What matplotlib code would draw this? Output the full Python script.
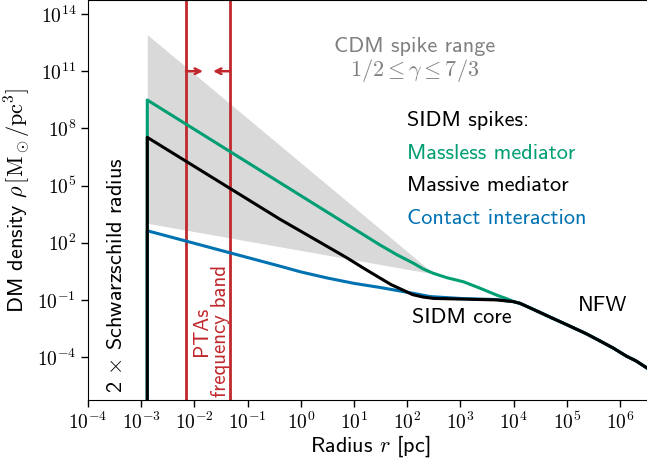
import numpy as np
import matplotlib
matplotlib.use("Agg")
import matplotlib.pyplot as plt
from matplotlib.ticker import FixedLocator, FuncFormatter, NullLocator

plt.rcParams['font.family'] = ['cmss10', 'DejaVu Sans']
plt.rcParams['mathtext.fontset'] = 'cm'
plt.rcParams['axes.unicode_minus'] = False

# DATA (radius in pc, density in Msun/pc^3)
r_min = 1.3e-3
r_pta = [6.95e-3, 4.67e-2]

# CDM spike band, gamma = 7/3 (upper) and gamma = 1/2 (lower)
band_r = [1.3e-3, 3.2e2]
band_upper = [8.3e12, 2.3]
band_lower = [1.05e3, 2.3]

# shared NFW tail
r_nfw = [1.0e4, 1.32e4, 2.34e4, 5.0e4, 1.0e5, 2.34e5, 4.17e5, 7.41e5, 1.32e6, 2.0e6, 3.4e6]
rho_nfw = [0.081, 0.066, 0.032, 0.012, 5.0e-3, 1.66e-3, 7.1e-4, 3.0e-4, 1.12e-4, 6.3e-5, 2.4e-5]

r_massless = [r_min, r_min, 0.407, 30.9, 63.1, 132, 200, 309, 550, 1150, 2340, 4790, 8510]
rho_massless = [1e-8, 3.09e9, 1.41e5, 75.9, 24.0, 8.3, 4.2, 2.5, 1.48, 0.89, 0.41, 0.18, 0.10]

r_massive = [r_min, r_min, 0.407, 7.24, 15.8, 30.9, 50.1, 79.4, 126, 200, 316, 1150, 4790]
rho_massive = [1e-8, 3.39e7, 1.70e3, 16.6, 4.3, 1.4, 0.63, 0.35, 0.19, 0.141, 0.12, 0.11, 0.10]

r_contact = [r_min, r_min, 0.407, 1.0, 3.16, 10.0, 30.9, 132, 269, 1150, 4790]
rho_contact = [1e-8, 427, 5.9, 2.95, 1.41, 0.74, 0.45, 0.22, 0.15, 0.117, 0.105]

xticks = [1e-4, 1e-3, 1e-2, 1e-1, 1e0, 1e1, 1e2, 1e3, 1e4, 1e5, 1e6]
yticks = [1e-4, 1e-1, 1e2, 1e5, 1e8, 1e11, 1e14]

GREEN = '#009e73'
BLUE = '#0072b2'
RED = '#c0282d'

fig = plt.figure(figsize=(6.47, 4.68), dpi=100)
ax = fig.add_axes([88/647, 68/468, 564/647, 400/468])

ax.fill_between(band_r, band_lower, band_upper, color='#d9d9d9', lw=0, zorder=1)

for r in r_pta:
    ax.axvline(r, color=RED, lw=2, zorder=2)
ax.annotate('', xy=(1.45e-2, 1e11), xytext=(r_pta[0], 1e11),
            arrowprops=dict(arrowstyle='->', color=RED, lw=1.8, shrinkA=0, shrinkB=0), zorder=2)
ax.annotate('', xy=(2.24e-2, 1e11), xytext=(r_pta[1], 1e11),
            arrowprops=dict(arrowstyle='->', color=RED, lw=1.8, shrinkA=0, shrinkB=0), zorder=2)

ax.plot(r_massless + r_nfw, rho_massless + rho_nfw, color=GREEN, lw=2.2, zorder=3)
ax.plot(r_contact + r_nfw, rho_contact + rho_nfw, color=BLUE, lw=2.2, zorder=3)
ax.plot(r_massive + r_nfw, rho_massive + rho_nfw, color='black', lw=2.2, zorder=4)

ax.set_xscale('log')
ax.set_yscale('log')
ax.set_xlim(1e-4, 10**6.6)
ax.set_ylim(10**-6.25, 10**(-6.25 + 400/19.06))

fmt = FuncFormatter(lambda v, p: r'$10^{%d}$' % round(np.log10(v)))
ax.xaxis.set_major_locator(FixedLocator(xticks))
ax.yaxis.set_major_locator(FixedLocator(yticks))
ax.xaxis.set_minor_locator(NullLocator())
ax.yaxis.set_minor_locator(NullLocator())
ax.xaxis.set_major_formatter(fmt)
ax.yaxis.set_major_formatter(fmt)
ax.tick_params(direction='out', length=5, width=1, labelsize=14)

ax.set_xlabel(r'Radius $r$ [pc]', fontsize=16, labelpad=0)
ax.set_ylabel(r'DM density $\rho\,[\mathrm{M}_\odot/\mathrm{pc}^3]$', fontsize=16, labelpad=3)

ax.text(0.58, 0.885, 'CDM spike range', color='#808080', fontsize=16,
        ha='center', va='center', transform=ax.transAxes)
ax.text(0.58, 0.823, r'$1/2 \leq \gamma \leq 7/3$', color='#808080', fontsize=16,
        ha='center', va='center', transform=ax.transAxes)

ax.text(0.566, 0.698, 'SIDM spikes:', color='black', fontsize=16, va='center', transform=ax.transAxes)
ax.text(0.566, 0.616, 'Massless mediator', color=GREEN, fontsize=16, va='center', transform=ax.transAxes)
ax.text(0.566, 0.536, 'Massive mediator', color='black', fontsize=16, va='center', transform=ax.transAxes)
ax.text(0.566, 0.454, 'Contact interaction', color=BLUE, fontsize=16, va='center', transform=ax.transAxes)

ax.text(0.663, 0.207, 'SIDM core', fontsize=16, ha='center', va='center', transform=ax.transAxes)
ax.text(0.913, 0.237, 'NFW', fontsize=16, ha='center', va='center', transform=ax.transAxes)

ax.text(0.051, 0.017, r'2 $\times$ Schwarzschild radius', fontsize=16, rotation=90,
        ha='center', va='bottom', transform=ax.transAxes)
ax.text(0.218, 0.0075, 'PTAs\nfrequency band', color=RED, fontsize=15, rotation=90,
        ha='center', va='bottom', multialignment='center', linespacing=1.0,
        transform=ax.transAxes)

fig.savefig('out.png', dpi=100)
